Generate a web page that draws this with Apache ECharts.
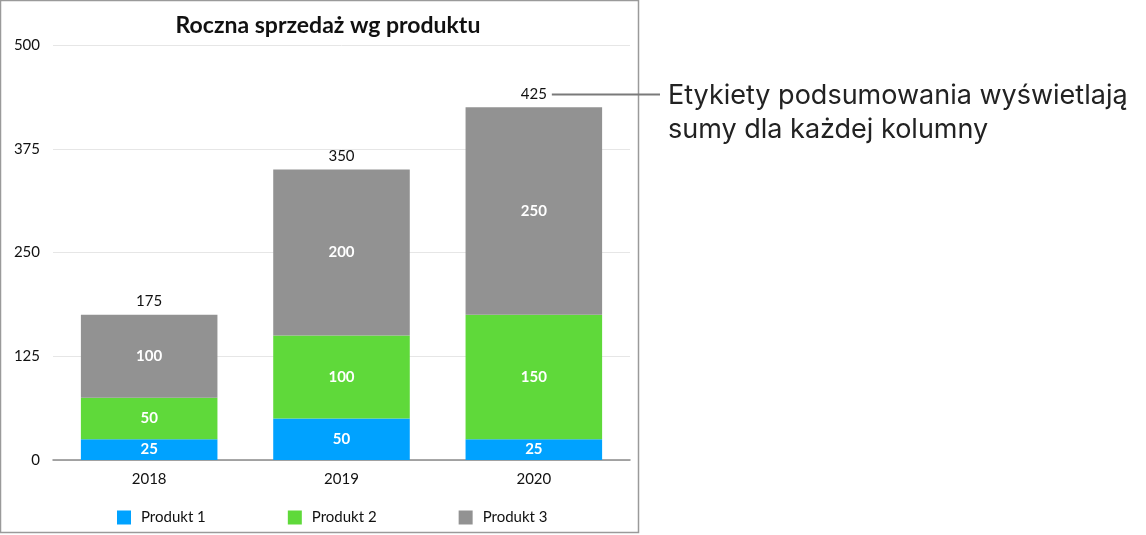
<!DOCTYPE html>
<html>
<head>
<meta charset="utf-8">
<script src="https://cdn.jsdelivr.net/npm/echarts@6/dist/echarts.min.js"></script>
<style>
  html, body { margin: 0; padding: 0; background: #fff; }
  #chart { width: 1146px; height: 535px; }
</style>
</head>
<body>
<div id="chart"></div>
<script>
var years = ['2018', '2019', '2020'];
var produkt1 = [25, 50, 25];
var produkt2 = [50, 100, 150];
var produkt3 = [100, 200, 250];
var sumy = [175, 350, 425];
var seriesNames = ['Produkt 1', 'Produkt 2', 'Produkt 3'];
var colors = ['#00A2FF', '#5FD93A', '#929292'];

var FONT = 'Lato';

var chartDom = document.getElementById('chart');
var myChart = echarts.init(chartDom);

function stackSeries(name, data, color) {
    return {
        name: name,
        type: 'bar',
        stack: 'sum',
        data: data,
        barWidth: '71%',
        itemStyle: { color: color },
        label: {
            show: true,
            position: 'inside',
            color: '#fff',
            fontSize: 15,
            fontWeight: 'bold',
            fontFamily: FONT
        }
    };
}

var option = {
    animation: false,
    color: colors,
    title: {
        text: 'Roczna sprzedaż wg produktu',
        left: 323,
        textAlign: 'center',
        top: 9,
        textStyle: { fontSize: 23, fontWeight: 'bold', color: '#111', fontFamily: FONT }
    },
    legend: {
        data: seriesNames,
        bottom: 5,
        left: 112,
        itemGap: 82,
        itemWidth: 14,
        itemHeight: 14,
        icon: 'rect',
        textStyle: { fontSize: 15, color: '#111', fontFamily: FONT, padding: [0, 0, 0, 5] }
    },
    grid: { left: 53, right: 516, top: 45, bottom: 75 },
    xAxis: {
        type: 'category',
        data: years,
        axisTick: { show: false },
        axisLine: { lineStyle: { color: '#8a8a8a', width: 1.5 } },
        axisLabel: { margin: 12, fontSize: 15, color: '#111', fontFamily: FONT }
    },
    yAxis: {
        type: 'value',
        min: 0,
        max: 500,
        interval: 125,
        axisLine: { show: false },
        axisTick: { show: false },
        splitLine: { lineStyle: { color: '#e6e6e6' } },
        axisLabel: { margin: 13, fontSize: 15, color: '#111', fontFamily: FONT }
    },
    series: [
        stackSeries(seriesNames[0], produkt1, colors[0]),
        stackSeries(seriesNames[1], produkt2, colors[1]),
        stackSeries(seriesNames[2], produkt3, colors[2]),
        {
            name: 'Suma',
            type: 'bar',
            data: sumy,
            barWidth: '71%',
            barGap: '-100%',
            z: 1,
            itemStyle: { color: 'rgba(0,0,0,0)' },
            label: {
                show: true,
                position: 'top',
                distance: 6,
                color: '#111',
                fontSize: 15,
                fontFamily: FONT
            },
            tooltip: { show: false }
        }
    ]
};

myChart.setOption(option);

// obramowanie wykresu + adnotacja do etykiety sumy
var p = myChart.convertToPixel({ seriesIndex: 3 }, [years.length - 1, sumy[sumy.length - 1]]);
var lineY = Math.round(p[1] - 13) + 0.5;
myChart.setOption({
    graphic: [
        {
            type: 'rect',
            shape: { x: 0.5, y: 0.5, width: 638, height: 532 },
            style: { fill: 'none', stroke: '#9a9a9a', lineWidth: 1.5 },
            silent: true
        },
        {
            type: 'line',
            shape: { x1: p[0] + 18, y1: lineY, x2: 660, y2: lineY },
            style: { stroke: '#7a7a7a', lineWidth: 2 },
            silent: true
        },
        {
            type: 'text',
            left: 668,
            top: lineY - 16,
            style: {
                text: 'Etykiety podsumowania wyświetlają\nsumy dla każdej kolumny',
                fontSize: 27,
                lineHeight: 34,
                fill: '#222',
                fontFamily: 'Inter'
            }
        }
    ]
});
</script>
</body>
</html>
